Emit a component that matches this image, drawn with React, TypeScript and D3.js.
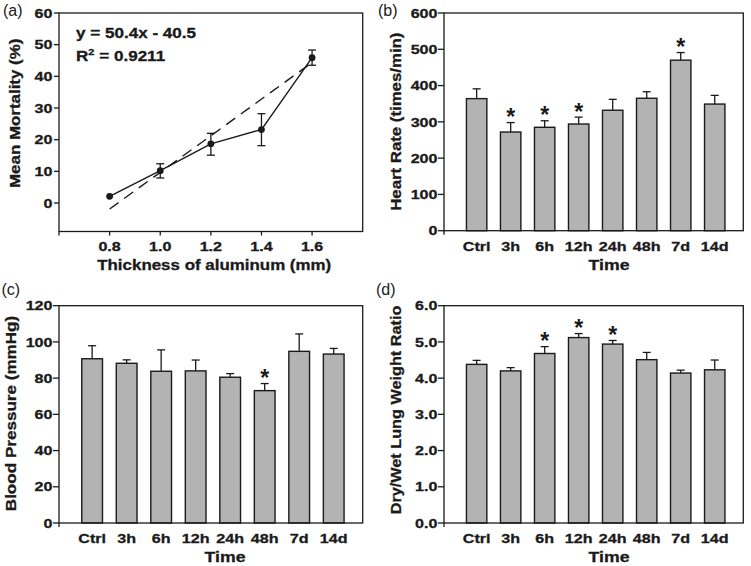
import React from 'react'
import * as d3 from 'd3'

// (a) mortality vs aluminum thickness
const thickness = [0.8, 1.0, 1.2, 1.4, 1.6]
const mortality = [2.1, 10.2, 18.7, 23.2, 45.9]
const mortalityLo = [2.1, 7.9, 15.1, 18.1, 43.5]
const mortalityHi = [2.1, 12.4, 22.0, 28.2, 48.3]
const trendX = [0.8, 1.585]
const trendY = [-1.9, 43.5]
const mortalityTicksY = [0, 10, 20, 30, 40, 50, 60]

// (b)-(d) time course
const timeCats = ['Ctrl', '3h', '6h', '12h', '24h', '48h', '7d', '14d']
const heartRate = [364, 272, 285, 294, 332, 365, 470, 349]
const heartRateErr = [27, 26, 18, 19, 30, 18, 21, 24]
const heartRateSig = [false, true, true, true, false, false, true, false]
const heartRateTicks = [0, 100, 200, 300, 400, 500, 600]

const bloodPressure = [90.7, 88.2, 83.8, 84.0, 80.5, 73.1, 94.8, 93.3]
const bloodPressureErr = [7.2, 1.9, 11.8, 6.0, 2.0, 3.9, 9.6, 3.1]
const bloodPressureSig = [false, false, false, false, false, true, false, false]
const bloodPressureTicks = [0, 20, 40, 60, 80, 100, 120]

const lungRatio = [4.38, 4.2, 4.68, 5.12, 4.94, 4.51, 4.14, 4.23]
const lungRatioErr = [0.11, 0.09, 0.19, 0.11, 0.1, 0.2, 0.08, 0.27]
const lungRatioSig = [false, false, true, true, true, false, false, false]
const lungRatioTicks = [0, 1, 2, 3, 4, 5, 6]

const FONT = "Arial, 'Liberation Sans', sans-serif"
const INK = '#1a1a1a'

// bold text, a little wider than Arial (like the source figure)
function Txt({ x, y, size = 13, sx = 1.24, anchor = 'middle', rotate = 0, dy, children }: any) {
  return (
    <g transform={`translate(${x},${y}) rotate(${rotate}) scale(${sx},1)`}>
      <text textAnchor={anchor} dy={dy} fontSize={size} fontWeight="bold" fontFamily={FONT}
        fill={INK} stroke={INK} strokeWidth={0.3}>
        {children}
      </text>
    </g>
  )
}

function Label({ x, y, text }: any) {
  return (
    <text x={x} y={y} fontSize={16} fontFamily={FONT} fill={INK}>{text}</text>
  )
}

function Frame({ box }: any) {
  return (
    <rect x={box.x0} y={box.y0} width={box.x1 - box.x0} height={box.y1 - box.y0}
      fill="none" stroke={INK} strokeWidth={1.3} />
  )
}

function LinePanel() {
  const box = { x0: 59, y0: 13, x1: 362.7, y1: 231.5 }
  const x = d3.scaleLinear().domain([0.6, 1.8]).range([box.x0, box.x1])
  const y = d3.scaleLinear().domain([-9, 60]).range([box.y1, box.y0])
  const pts = thickness.map((t, i) => [t, mortality[i]] as [number, number])
  const line = d3.line<[number, number]>().x(d => x(d[0])).y(d => y(d[1]))
  const trend = line(trendX.map((t, i) => [t, trendY[i]] as [number, number]))
  return (
    <g>
      <Label x={3} y={15.5} text="(a)" />
      <Frame box={box} />
      <line x1={box.x0} x2={box.x0} y1={box.y1} y2={box.y1 + 4} stroke={INK} strokeWidth={1.3} />
      {mortalityTicksY.map(t => (
        <g key={t}>
          <line x1={box.x0 - 5} x2={box.x0} y1={y(t)} y2={y(t)} stroke={INK} strokeWidth={1.3} />
          <Txt x={box.x0 - 6.5} y={y(t)} anchor="end" dy="0.36em">{t}</Txt>
        </g>
      ))}
      {thickness.map(t => (
        <g key={t}>
          <line x1={x(t)} x2={x(t)} y1={box.y1} y2={box.y1 + 4} stroke={INK} strokeWidth={1.3} />
          <Txt x={x(t)} y={box.y1 + 19.5}>{d3.format('.1f')(t)}</Txt>
        </g>
      ))}
      <path d={trend || ''} fill="none" stroke={INK} strokeWidth={1.4} strokeDasharray="11,7" />
      <path d={line(pts) || ''} fill="none" stroke={INK} strokeWidth={1.4} />
      {thickness.map((t, i) => (
        <g key={t} stroke={INK} strokeWidth={1.3}>
          {mortalityHi[i] > mortalityLo[i] && (
            <>
              <line x1={x(t)} x2={x(t)} y1={y(mortalityLo[i])} y2={y(mortalityHi[i])} />
              <line x1={x(t) - 4} x2={x(t) + 4} y1={y(mortalityHi[i])} y2={y(mortalityHi[i])} />
              <line x1={x(t) - 4} x2={x(t) + 4} y1={y(mortalityLo[i])} y2={y(mortalityLo[i])} />
            </>
          )}
          <circle cx={x(t)} cy={y(mortality[i])} r={3.4} fill={INK} stroke="none" />
        </g>
      ))}
      <Txt x={76} y={38.3} size={14} sx={1.22} anchor="start">y = 50.4x - 40.5</Txt>
      <Txt x={76} y={60.7} size={14} sx={1.22} anchor="start">
        R<tspan fontSize={9} dy={-6}>2</tspan><tspan dy={6}> = 0.9211</tspan>
      </Txt>
      <Txt x={14.5} y={113.3} size={14} sx={1.21} rotate={-90} dy="0.36em">Mean Mortality (%)</Txt>
      <Txt x={214.2} y={270} size={14} sx={1.21}>Thickness of aluminum (mm)</Txt>
    </g>
  )
}

function BarPanel({ box, values, errs, sig, ticks, max, fmt, label, labelPos, yTitle, yTitlePos, yTitleSx, xTitlePos }: any) {
  const x = d3.scaleBand<string>().domain(timeCats).range([box.x0, box.x1])
    .paddingInner(0.4).paddingOuter(0.6).align(0.55)
  const y = d3.scaleLinear().domain([0, max]).range([box.y1, box.y0])
  const bw = x.bandwidth()
  return (
    <g>
      <Label x={labelPos.x} y={labelPos.y} text={label} />
      {timeCats.map((c, i) => {
        const cx = (x(c) as number) + bw / 2
        const top = y(values[i] + errs[i])
        return (
          <g key={c}>
            <line x1={cx} x2={cx} y1={y(values[i])} y2={top} stroke={INK} strokeWidth={1.3} />
            <line x1={cx - 4} x2={cx + 4} y1={top} y2={top} stroke={INK} strokeWidth={1.3} />
            <rect x={x(c)} y={y(values[i])} width={bw} height={y(0) - y(values[i])}
              fill="#b3b3b3" stroke={INK} strokeWidth={1.4} />
            {sig[i] && (
              <text x={cx} y={top + 2.5} textAnchor="middle" fontSize={23} fontWeight="bold"
                fontFamily={FONT} fill={INK}>*</text>
            )}
            <Txt x={cx} y={box.y1 + 20}>{c}</Txt>
          </g>
        )
      })}
      <Frame box={box} />
      <line x1={box.x0} x2={box.x0} y1={box.y1} y2={box.y1 + 4} stroke={INK} strokeWidth={1.3} />
      {ticks.map((t: number) => (
        <g key={t}>
          <line x1={box.x0 - 6} x2={box.x0} y1={y(t)} y2={y(t)} stroke={INK} strokeWidth={1.3} />
          <Txt x={box.x0 - 6.5} y={y(t)} anchor="end" dy="0.36em">{fmt(t)}</Txt>
        </g>
      ))}
      <Txt x={yTitlePos.x} y={yTitlePos.y} size={14} sx={yTitleSx} rotate={-90} dy="0.36em">{yTitle}</Txt>
      <Txt x={xTitlePos.x} y={xTitlePos.y} size={14.5} sx={1.22}>Time</Txt>
    </g>
  )
}

export default function App() {
  return (
    <svg width={751} height={566} style={{ position: 'absolute', left: 0, top: 0, background: '#fff' }}>
      <rect width={751} height={566} fill="#fff" />
      <LinePanel />
      <BarPanel box={{ x0: 444, y0: 13, x1: 743.3, y1: 230.7 }} values={heartRate} errs={heartRateErr}
        sig={heartRateSig} ticks={heartRateTicks} max={600} fmt={d3.format('d')}
        label="(b)" labelPos={{ x: 378, y: 15.5 }} yTitle="Heart Rate (times/min)" yTitleSx={1.2}
        yTitlePos={{ x: 396, y: 121.7 }} xTitlePos={{ x: 609, y: 269.5 }} />
      <BarPanel box={{ x0: 59, y0: 305.7, x1: 362.7, y1: 523 }} values={bloodPressure} errs={bloodPressureErr}
        sig={bloodPressureSig} ticks={bloodPressureTicks} max={120} fmt={d3.format('d')}
        label="(c)" labelPos={{ x: 1.5, y: 294.5 }} yTitle="Blood Pressure (mmHg)" yTitleSx={1.22}
        yTitlePos={{ x: 11, y: 413.5 }} xTitlePos={{ x: 225, y: 562 }} />
      <BarPanel box={{ x0: 444, y0: 305.7, x1: 743.3, y1: 523 }} values={lungRatio} errs={lungRatioErr}
        sig={lungRatioSig} ticks={lungRatioTicks} max={6} fmt={d3.format('.1f')}
        label="(d)" labelPos={{ x: 376, y: 294.5 }} yTitle="Dry/Wet Lung Weight Ratio" yTitleSx={1.16}
        yTitlePos={{ x: 395.5, y: 410 }} xTitlePos={{ x: 609, y: 562 }} />
    </svg>
  )
}
